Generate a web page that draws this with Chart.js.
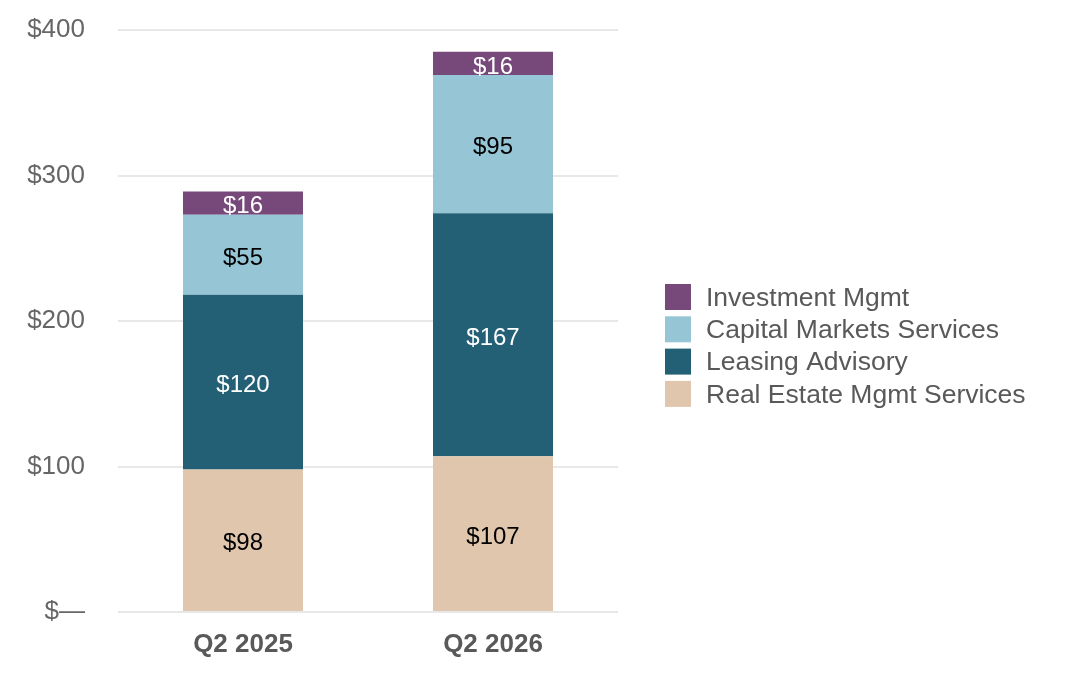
<!DOCTYPE html>
<html>
<head>
<meta charset="utf-8">
<style>
html,body{margin:0;padding:0;background:#fff;}
#wrap{width:1074px;height:690px;}
</style>
<script src="https://cdn.jsdelivr.net/npm/chart.js@4.4.1/dist/chart.umd.min.js"></script>
</head>
<body>
<div id="wrap"><canvas id="c" width="1074" height="690"></canvas></div>
<script>
const categories = ['Q2 2025', 'Q2 2026'];
const realEstateMgmt = [98, 107];
const leasingAdvisory = [120, 167];
const capitalMarkets = [55, 95];
const investmentMgmt = [16, 16];
const yTicks = [0, 100, 200, 300, 400];

const FONT = '"Liberation Sans", Arial, sans-serif';

const labelPlugin = {
  id: 'barLabels',
  afterDatasetsDraw(chart) {
    const ctx = chart.ctx;
    ctx.save();
    ctx.font = '24px ' + FONT;
    ctx.textAlign = 'center';
    ctx.textBaseline = 'middle';
    chart.data.datasets.forEach((ds, i) => {
      const meta = chart.getDatasetMeta(i);
      meta.data.forEach((bar, j) => {
        const v = ds.data[j];
        const y = (bar.y + bar.base) / 2;
        ctx.fillStyle = ds.labelColor;
        ctx.fillText('$' + v, bar.x, y + 3.5);
      });
    });
    ctx.restore();
  }
};

const legendPlugin = {
  id: 'sideLegend',
  afterDraw(chart) {
    const ctx = chart.ctx;
    ctx.save();
    ctx.font = '26.5px ' + FONT;
    ctx.textAlign = 'left';
    ctx.textBaseline = 'middle';
    const items = chart.data.datasets.slice().reverse();
    const x0 = chart.chartArea.right + 47;
    const yStart = 284;
    items.forEach((ds, k) => {
      const y = yStart + k * 32.3;
      ctx.fillStyle = ds.backgroundColor;
      ctx.fillRect(x0, y, 26, 26);
      ctx.fillStyle = '#595959';
      ctx.fillText(ds.label, x0 + 41, y + 14.5);
    });
    ctx.restore();
  }
};

new Chart(document.getElementById('c'), {
  type: 'bar',
  data: {
    labels: categories,
    datasets: [
      { label: 'Real Estate Mgmt Services', data: realEstateMgmt, backgroundColor: '#E0C6AD', labelColor: '#000' },
      { label: 'Leasing Advisory', data: leasingAdvisory, backgroundColor: '#236075', labelColor: '#fff' },
      { label: 'Capital Markets Services', data: capitalMarkets, backgroundColor: '#96C6D6', labelColor: '#000' },
      { label: 'Investment Mgmt', data: investmentMgmt, backgroundColor: '#77497A', labelColor: '#fff' }
    ]
  },
  options: {
    responsive: false,
    animation: false,
    devicePixelRatio: 1,
    layout: { padding: { left: 0, right: 456, top: 30, bottom: 0 } },
    datasets: { bar: { categoryPercentage: 1, barPercentage: 0.48 } },
    scales: {
      x: {
        stacked: true,
        grid: { display: false, drawTicks: false },
        border: { display: false },
        ticks: { color: '#595959', font: { family: FONT, size: 26, weight: 'bold' }, padding: 17 },
        afterFit(axis) { axis.height = 78; axis.paddingLeft = 0; axis.paddingRight = 0; }
      },
      y: {
        stacked: true,
        min: 0, max: 400,
        afterBuildTicks(axis) { axis.ticks = yTicks.map(v => ({ value: v })); },
        grid: { color: '#E8E8E8', lineWidth: 2, drawTicks: false },
        border: { display: false },
        ticks: {
          color: '#666666',
          font: { family: FONT, size: 26 },
          padding: 33,
          callback: v => v === 0 ? '$\u2014' : '$' + v
        },
        afterFit(axis) { axis.width = 118; axis.paddingTop = 0; axis.paddingBottom = 0; }
      }
    },
    plugins: {
      legend: { display: false },
      tooltip: { enabled: false }
    }
  },
  plugins: [labelPlugin, legendPlugin]
});
</script>
</body>
</html>
